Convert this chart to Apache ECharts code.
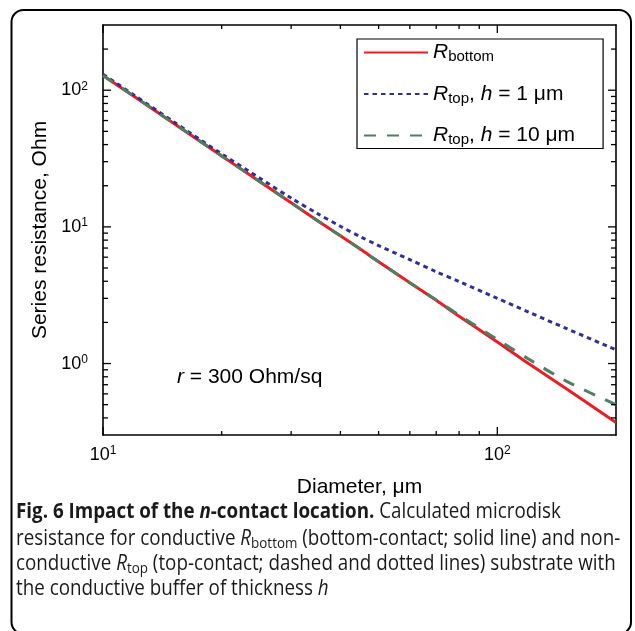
<!DOCTYPE html>
<html><head><meta charset="utf-8">
<script src="https://cdn.jsdelivr.net/npm/echarts@6/dist/echarts.min.js"></script>
<style>html,body{margin:0;padding:0;background:#fff}#c{width:635px;height:631px}</style>
</head><body><div id="c"></div>
<script>
// ---- data ----
const diameters = [10, 12, 15, 20, 25, 30, 35, 40, 45, 50, 60, 70, 80, 100, 120, 150, 200];
const rBottom   = [128, 90, 58, 33, 21.4, 15, 11.1, 8.6, 6.85, 5.55, 3.9, 2.9, 2.22, 1.44, 1.0, 0.65, 0.37];
const rTopH1    = [131, 92, 59.5, 34.2, 22.7, 16.25, 12.5, 10.1, 8.46, 7.3, 5.75, 4.7, 3.98, 3.0, 2.38, 1.8, 1.26];
const rTopH10   = [128, 90, 58, 33, 21.4, 15, 11.1, 8.6, 6.85, 5.55, 3.9, 2.92, 2.26, 1.5, 1.08, 0.74, 0.5];
const seriesNames = ['R_bottom', 'R_top, h = 1 μm', 'R_top, h = 10 μm'];
const legendLabels = ['{i|R}{sub|bottom}', '{i|R}{sub|top}{n|, }{i|h}{n| = 1 μm}', '{i|R}{sub|top}{n|, }{i|h}{n| = 10 μm}'];
const xMajorTicks = [10, 100];
const xTickLabels = ['{b|10}{s|1}', '{b|10}{s|2}'];
const xMinorTicks = [20, 30, 40, 50, 60, 70, 80, 90];
const yMajorTicks = [1, 10, 100];
const yTickLabels = ['{b|10}{s|0}', '{b|10}{s|1}', '{b|10}{s|2}'];
const yMinorTicks = [0.4, 0.5, 0.6, 0.7, 0.8, 0.9, 2, 3, 4, 5, 6, 7, 8, 9, 20, 30, 40, 50, 60, 70, 80, 90, 200];
const xRange = [10, 200];
const yRange = [0.3, 300];

const FONT = '"Liberation Sans", Arial, sans-serif';
const CAP = '"Open Sans", sans-serif';
const chart = echarts.init(document.getElementById('c'));

function pairs(ys) { return diameters.map((d, i) => [d, ys[i]]); }
function labelFor(v, ticks, labels) {
  for (let i = 0; i < ticks.length; i++) if (Math.abs(Math.log10(v) - Math.log10(ticks[i])) < 1e-6) return labels[i];
  return '';
}
const tickRich = {
  b: {fontSize: 18, fontFamily: FONT, color: '#000', lineHeight: 20},
  s: {fontSize: 12, fontFamily: FONT, color: '#000', lineHeight: 12, verticalAlign: 'top'}
};
const lineSt = {color: '#000', width: 1.6};
const TICK_W = 1.3;

function mkAxis(kind, pos, withLabel, extra) {
  const range = kind === 'x' ? xRange : yRange;
  const ticks = kind === 'x' ? xMajorTicks : yMajorTicks;
  const labs = kind === 'x' ? xTickLabels : yTickLabels;
  const ax = {
    type: 'log', logBase: 10, min: range[0], max: range[1], position: pos,
    axisLine: {show: true, lineStyle: lineSt},
    axisTick: {show: false},
    axisLabel: {show: withLabel, customValues: ticks, margin: kind === 'x' ? 10 : 15,
      formatter: v => labelFor(v, ticks, labs), rich: tickRich, color: '#000'},
    splitLine: {show: false}, minorTick: {show: false}, minorSplitLine: {show: false},
    axisPointer: {show: false}
  };
  return Object.assign(ax, extra || {});
}

// tick marks drawn at tick values through the chart's own log scales
function tickSeries(kind, values, len) {
  return {
    type: 'custom', silent: true, clip: false, z: 10,
    data: values.map(v => kind === 'x' ? [v, yRange[0]] : [xRange[0], v]),
    encode: {x: 0, y: 1},
    renderItem: function (params, api) {
      const st = {stroke: '#000', lineWidth: TICK_W};
      if (kind === 'x') {
        const v = api.value(0);
        const a = api.coord([v, yRange[0]]), b = api.coord([v, yRange[1]]);
        return {type: 'group', children: [
          {type: 'line', shape: {x1: a[0], y1: a[1], x2: a[0], y2: a[1] - len}, style: st},
          {type: 'line', shape: {x1: b[0], y1: b[1], x2: b[0], y2: b[1] + len}, style: st}
        ]};
      }
      const v = api.value(1);
      const a = api.coord([xRange[0], v]), b = api.coord([xRange[1], v]);
      return {type: 'group', children: [
        {type: 'line', shape: {x1: a[0], y1: a[1], x2: a[0] + len, y2: a[1]}, style: st},
        {type: 'line', shape: {x1: b[0], y1: b[1], x2: b[0] - len, y2: b[1]}, style: st}
      ]};
    }
  };
}

const option = {
  animation: false,
  backgroundColor: '#fff',
  grid: {left: 103, right: 19, top: 25, bottom: 196, containLabel: false, outerBoundsMode: 'none'},
  xAxis: [
    mkAxis('x', 'bottom', true, {
      name: 'Diameter, μm', nameLocation: 'middle', nameGap: 42, nameMoveOverlap: false,
      nameTextStyle: {fontSize: 21, fontFamily: FONT, color: '#000'}
    }),
    mkAxis('x', 'top', false)
  ],
  yAxis: [
    mkAxis('y', 'left', true, {
      name: 'Series resistance, Ohm', nameLocation: 'middle', nameGap: 52, nameRotate: 90, nameMoveOverlap: false,
      nameTextStyle: {fontSize: 21, fontFamily: FONT, color: '#000'}
    }),
    mkAxis('y', 'right', false)
  ],
  legend: {
    orient: 'vertical', left: 357, top: 39, itemWidth: 64, itemHeight: 14, itemGap: 19,
    padding: [3, 28, 1, 6], borderColor: '#000', borderWidth: 1.2, borderRadius: 0,
    backgroundColor: '#fff', data: seriesNames, selectedMode: false,
    itemStyle: {opacity: 0, color: 'rgba(0,0,0,0)', borderWidth: 0},
    formatter: name => legendLabels[seriesNames.indexOf(name)],
    textStyle: {fontSize: 21, fontFamily: FONT, color: '#000', rich: {
      i: {fontSize: 21, fontFamily: FONT, fontStyle: 'italic', color: '#000', lineHeight: 24},
      n: {fontSize: 21, fontFamily: FONT, color: '#000', lineHeight: 24},
      sub: {fontSize: 15, fontFamily: FONT, color: '#000', lineHeight: 13, verticalAlign: 'bottom'}
    }}
  },
  series: [
    {name: seriesNames[0], type: 'line', data: pairs(rBottom), symbol: 'none', smooth: 0.3, z: 3,
      lineStyle: {color: '#ec1c24', width: 3}, itemStyle: {color: '#ec1c24'}},
    {name: seriesNames[1], type: 'line', data: pairs(rTopH1), symbol: 'none', smooth: 0.3, z: 4,
      lineStyle: {color: '#2e3192', width: 3, type: [4.5, 4]}, itemStyle: {color: '#2e3192'}},
    {name: seriesNames[2], type: 'line', data: pairs(rTopH10), symbol: 'none', smooth: 0.3, z: 5,
      lineStyle: {color: '#4f7f62', width: 3, type: [12, 11]}, itemStyle: {color: '#4f7f62'}},
    tickSeries('x', xMajorTicks, 8),
    tickSeries('x', xMinorTicks, 4),
    tickSeries('y', yMajorTicks, 8),
    tickSeries('y', yMinorTicks, 5)
  ],
  graphic: [
    {type: 'rect', shape: {x: 11.5, y: 10, width: 619.5, height: 624, r: 12}, silent: true,
      style: {fill: 'none', stroke: '#000', lineWidth: 2}},
    {type: 'text', x: 177, y: 377, silent: true, style: {
      text: '{i|r}{n| = 300 Ohm/sq}', verticalAlign: 'middle', rich: {
        i: {fontSize: 21, fontFamily: FONT, fontStyle: 'italic', fill: '#000'},
        n: {fontSize: 21, fontFamily: FONT, fill: '#000'}
      }}},
    ...[
      ['{B|Fig. 6 Impact of the }{BI|n}{B|-contact location.}{N| Calculated microdisk}', 512],
      ['{N|resistance for conductive }{I|R}{sub|bottom}{N| (bottom-contact; solid line) and non-}', 539],
      ['{N|conductive }{I|R}{sub|top}{N| (top-contact; dashed and dotted lines) substrate with}', 564],
      ['{N|the conductive buffer of thickness }{I|h}', 589]
    ].map(([t, y]) => ({
      type: 'text', x: 16, y: y, scaleX: 0.895, silent: true, style: {
        text: t, verticalAlign: 'middle', rich: {
          B: {fontSize: 21, fontFamily: CAP, fontWeight: 'bold', fill: '#1a1a1a', lineHeight: 24},
          BI: {fontSize: 21, fontFamily: CAP, fontWeight: 'bold', fontStyle: 'italic', fill: '#1a1a1a', lineHeight: 24},
          N: {fontSize: 21, fontFamily: CAP, fill: '#1a1a1a', lineHeight: 24},
          I: {fontSize: 21, fontFamily: CAP, fontStyle: 'italic', fill: '#1a1a1a', lineHeight: 24},
          sub: {fontSize: 15, fontFamily: CAP, fill: '#1a1a1a', lineHeight: 14, verticalAlign: 'bottom'}
        }}
    }))
  ]
};
chart.setOption(option);
</script></body></html>
